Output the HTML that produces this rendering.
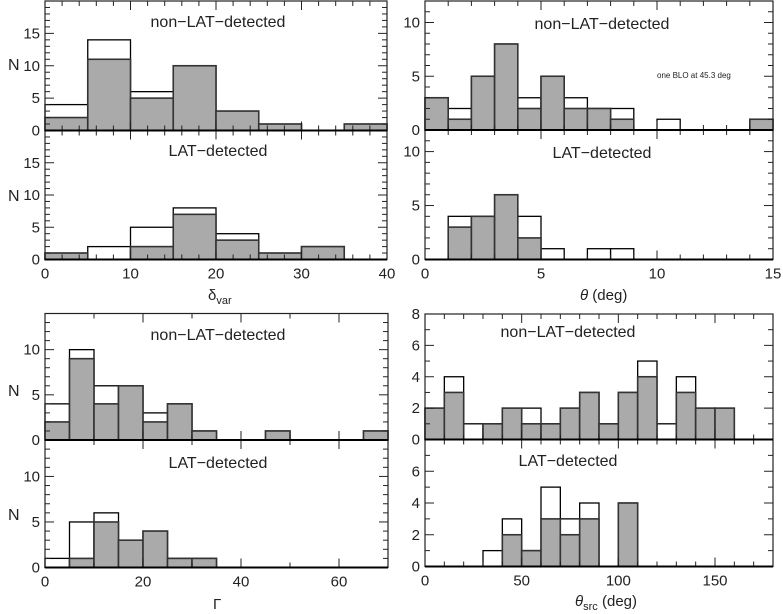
<!DOCTYPE html>
<html><head><meta charset="utf-8">
<style>
html,body{margin:0;padding:0;background:#fff;}
svg{display:block;font-family:"Liberation Sans",sans-serif;}
</style></head>
<body>
<svg id="fig" width="783" height="614" viewBox="0 0 783 614" xmlns="http://www.w3.org/2000/svg">
<text x="8" y="70" font-size="16" fill="#222">N</text>
<text x="8" y="201" font-size="16" fill="#222">N</text>
<text x="8" y="396" font-size="16" fill="#222">N</text>
<text x="8" y="520" font-size="16" fill="#222">N</text>
<text x="208" y="300" font-size="15" fill="#222">δ<tspan font-size="11" dy="4">var</tspan></text>
<text x="580" y="300" font-size="15" fill="#222"><tspan font-style="italic">θ</tspan> (deg)</text>
<text x="213" y="609" font-size="15" fill="#222">Γ</text>
<text x="575" y="606" font-size="15" fill="#222"><tspan font-style="italic">θ</tspan><tspan font-size="11" dy="4">src</tspan><tspan dy="-4"> (deg)</tspan></text>
<text x="657" y="78" font-size="8" fill="#222">one BLO at 45.3 deg</text>
</svg>
<script>
// ---- data ----
const dvarUpperTotal=[4,14,6,10,3,1,0,1];
const dvarUpperGray=[2,11,5,10,3,1,0,1];
const dvarLowerTotal=[1,2,5,8,4,1,2,0];
const dvarLowerGray=[1,0,2,7,3,1,2,0];
const thetaUpperTotal=[3,2,5,8,3,5,3,2,2,0,1,0,0,0,1];
const thetaUpperGray=[3,1,5,8,2,5,2,2,1,0,0,0,0,0,1];
const thetaLowerTotal=[0,4,4,6,4,1,0,1,1,0,0,0,0,0,0];
const thetaLowerGray=[0,3,4,6,2,0,0,0,0,0,0,0,0,0,0];
const gammaUpperTotal=[4,10,6,6,3,4,1,0,0,1,0,0,0,1];
const gammaUpperGray=[2,9,4,6,2,4,1,0,0,1,0,0,0,1];
const gammaLowerTotal=[1,5,6,3,4,1,1,0,0,0,0,0,0,0];
const gammaLowerGray=[0,1,5,3,4,1,1,0,0,0,0,0,0,0];
const srcUpperTotal=[2,4,1,1,2,2,1,2,3,1,3,5,1,4,2,2,0,0];
const srcUpperGray=[2,3,0,1,2,1,1,2,3,1,3,4,0,3,2,2,0,0];
const srcLowerTotal=[0,0,0,1,3,1,5,3,4,0,4,0,0,0,0,0,0,0];
const srcLowerGray=[0,0,0,0,2,1,3,2,3,0,4,0,0,0,0,0,0,0];
const dvarXTicks=[0,10,20,30,40];
const thetaXTicks=[0,5,10,15];
const gammaXTicks=[0,20,40,60];
const srcXTicks=[0,50,100,150];
const dvarYTicks=[0,5,10,15];
const thetaYTicks=[0,5,10];
const gammaYTicks=[0,5,10];
const srcYTicks=[0,2,4,6,8];

const NS="http://www.w3.org/2000/svg";
const svg=document.getElementById('fig');
function mk(tag,attrs){const e=document.createElementNS(NS,tag);for(const k in attrs)e.setAttribute(k,attrs[k]);svg.appendChild(e);return e;}

const panels=[
 {id:'dvar',x0:45,x1:387,top:1,mid:130.5,bot:259.5,xmax:40,bin:5,ymax:20,xt:dvarXTicks,yt:dvarYTicks,xminor:2,yminor:1,
  up:[dvarUpperTotal,dvarUpperGray],lo:[dvarLowerTotal,dvarLowerGray],tx:218,tyU:27,tyL:156,showLast:true},
 {id:'theta',x0:425,x1:773,top:1,mid:130,bot:259.5,xmax:15,bin:1,ymax:12,xt:thetaXTicks,yt:thetaYTicks,xminor:1,yminor:1,
  up:[thetaUpperTotal,thetaUpperGray],lo:[thetaLowerTotal,thetaLowerGray],tx:602,tyU:29,tyL:158},
 {id:'gamma',x0:45,x1:388,top:313.5,mid:440,bot:567.5,xmax:70,bin:5,ymax:14,xt:gammaXTicks,yt:gammaYTicks,xminor:10,yminor:1,
  up:[gammaUpperTotal,gammaUpperGray],lo:[gammaLowerTotal,gammaLowerGray],tx:218,tyU:340,tyL:468},
 {id:'theta-src',x0:425,x1:773,top:314,mid:439.5,bot:566.5,xmax:180,bin:10,ymax:8,xt:srcXTicks,yt:srcYTicks,xminor:10,yminor:1,
  up:[srcUpperTotal,srcUpperGray],lo:[srcLowerTotal,srcLowerGray],tx:568,tyU:337,tyL:466}
];

panels.forEach(p=>{
 const sx=v=>p.x0+(p.x1-p.x0)*v/p.xmax;
 const subs=[{name:'upper',y0:p.mid,y1:p.top,d:p.up,ty:p.tyU,label:'non\u2212LAT\u2212detected'},
             {name:'lower',y0:p.bot,y1:p.mid,d:p.lo,ty:p.tyL,label:'LAT\u2212detected'}];
 subs.forEach(s=>{
  const sy=v=>s.y0-(s.y0-s.y1)*v/p.ymax;
  s.d[0].forEach((v,i)=>{if(v<=0)return;
   const r=mk('rect',{x:sx(i*p.bin),y:sy(v),width:sx((i+1)*p.bin)-sx(i*p.bin),height:s.y0-sy(v),fill:'#fff',stroke:'#000','stroke-width':1.3});
   
   
  });
  s.d[1].forEach((v,i)=>{if(v<=0)return;
   const r=mk('rect',{x:sx(i*p.bin),y:sy(v),width:sx((i+1)*p.bin)-sx(i*p.bin),height:s.y0-sy(v),fill:'#aaaaaa',stroke:'#333','stroke-width':1.6});
   
   
  });
  for(let v=0;v<=p.ymax+1e-9;v+=p.yminor){
   const major=s_isMajor(p.yt,v);
   const L=major?9:5;
   mk('line',{x1:p.x0,x2:p.x0+L,y1:sy(v),y2:sy(v),stroke:'#222','stroke-width':1});
   mk('line',{x1:p.x1,x2:p.x1-L,y1:sy(v),y2:sy(v),stroke:'#222','stroke-width':1});
  }
  p.yt.forEach(v=>{
   if(s.name==='lower' && v>=p.ymax) return;
   const t=mk('text',{x:p.x0-5,y:sy(v)+5,'font-size':15,'text-anchor':'end',fill:'#222'});
   t.textContent=v;
   
   
  });
  const tt=mk('text',{x:p.tx,y:s.ty,'font-size':16,'text-anchor':'middle',fill:'#222'});
  tt.textContent=s.label;
  
  
 });
 for(let v=0;v<=p.xmax+1e-9;v+=p.xminor){
  const major=s_isMajor(p.xt,v)||v===p.xmax;
  const L=major?9:5;
  mk('line',{x1:sx(v),x2:sx(v),y1:p.top,y2:p.top+L,stroke:'#222','stroke-width':1});
  mk('line',{x1:sx(v),x2:sx(v),y1:p.mid-L,y2:p.mid+L,stroke:'#222','stroke-width':1});
  mk('line',{x1:sx(v),x2:sx(v),y1:p.bot,y2:p.bot-L,stroke:'#222','stroke-width':1});
 }
 const xl=p.xt.slice(); if(p.showLast && xl[xl.length-1]!==p.xmax) xl.push(p.xmax);
 xl.forEach(v=>{
  const t=mk('text',{x:sx(v),y:p.bot+19,'font-size':15,'text-anchor':'middle',fill:'#222'});
  t.textContent=v;
  
  
 });
 const f=mk('rect',{x:p.x0,y:p.top,width:p.x1-p.x0,height:p.bot-p.top,fill:'none',stroke:'#222','stroke-width':1.2});
 
 
 mk('line',{x1:p.x0,x2:p.x1,y1:p.mid,y2:p.mid,stroke:'#000','stroke-width':2});
 mk('line',{x1:p.x0,x2:p.x1,y1:p.bot,y2:p.bot,stroke:'#000','stroke-width':2});
});
function s_isMajor(arr,v){return arr.some(a=>Math.abs(a-v)<1e-6);}
</script>
</body></html>
